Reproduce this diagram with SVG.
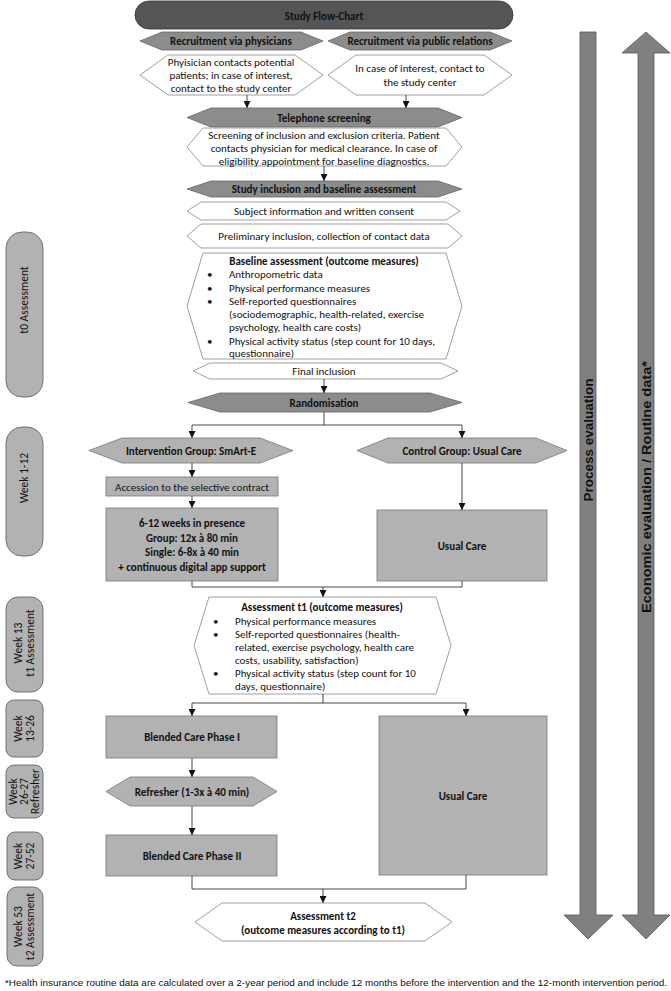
<svg xmlns="http://www.w3.org/2000/svg" width="671" height="991" viewBox="0 0 671 991">
<defs>
<marker id="ah" viewBox="0 0 8 8" refX="8" refY="4" markerWidth="7" markerHeight="7" markerUnits="userSpaceOnUse" orient="auto">
<path d="M0,0 L8,4 L0,8 z" fill="#111"/>
</marker>
<style>
.t{font-family:Carlito,'Liberation Sans Narrow','Liberation Sans',sans-serif;font-size:11px;fill:#111}
.b{font-weight:bold}
.c{text-anchor:middle}
.p{font-size:11.5px}
.a{font-family:'Liberation Sans',Arial,sans-serif;font-weight:bold;font-size:13.5px;fill:#111;text-anchor:middle}
.dk{fill:#8c8c8c;stroke:#666;stroke-width:0.8}
.wh{fill:#fff;stroke:#888;stroke-width:0.8}
.lg{fill:#b2b2b2;stroke:#777;stroke-width:0.8}
.pill{fill:#b2b2b2;stroke:#666;stroke-width:0.9}
.ar{fill:#808080;stroke:#555;stroke-width:0.8}
.ln{fill:none;stroke:#333;stroke-width:0.9}
</style>
</defs>
<rect width="671" height="991" fill="#fff"/>

<g id="title">
<rect x="135" y="1" width="378" height="28" rx="14" fill="#555" stroke="#333" stroke-width="0.8"/>
<text class="t b c" x="324" y="19.5" font-size="13">Study Flow-Chart</text>
</g>

<g id="recruit-phys">
<polygon class="dk" points="140,41 162,32 301,32 323,41 301,50 162,50"/>
<text class="t b c" x="231" y="45">Recruitment via physicians</text>
</g>
<g id="recruit-pr">
<polygon class="dk" points="328,41 350,32 490,32 512,41 490,50 350,50"/>
<text class="t b c" x="420" y="45">Recruitment via public relations</text>
</g>
<g id="phys-box">
<polygon class="wh" points="140,75 168,55 295,55 323,75 295,95 168,95"/>
<text class="t c" x="231" y="66">Phyisician contacts potential</text>
<text class="t c" x="231" y="79">patients; in case of interest,</text>
<text class="t c" x="231" y="92">contact to the study center</text>
</g>
<g id="pr-box">
<polygon class="wh" points="328,75 356,55 484,55 512,75 484,95 356,95"/>
<text class="t c" x="420" y="72">In case of interest, contact to</text>
<text class="t c" x="420" y="86">the study center</text>
</g>
<g id="telephone">
<polygon class="dk" points="187,117.5 211,108 438,108 462,117.5 438,127 211,127"/>
<text class="t b c" x="324" y="121.5">Telephone screening</text>
</g>
<g id="screening-box">
<polygon class="wh" points="187,147 203,128 446,128 462,147 446,166 203,166"/>
<text class="t c" x="324" y="139">Screening of inclusion and exclusion criteria. Patient</text>
<text class="t c" x="324" y="152">contacts physician for medical clearance. In case of</text>
<text class="t c" x="324" y="164.5">eligibility appointment for baseline diagnostics.</text>
</g>
<g id="inclusion">
<polygon class="dk" points="187,189 211,181 438,181 462,189 438,197 211,197"/>
<text class="t b c" x="324" y="193">Study inclusion and baseline assessment</text>
</g>
<g id="consent">
<polygon class="wh" points="187,211 201,202 446,202 460,211 446,220 201,220"/>
<text class="t c" x="324" y="215">Subject information and written consent</text>
</g>
<g id="preliminary">
<polygon class="wh" points="187,236 201,224 448,224 462,236 448,248 201,248"/>
<text class="t c" x="324" y="240">Preliminary inclusion, collection of contact data</text>
</g>
<g id="baseline">
<polygon class="wh" points="187,306 203,253 446,253 462,306 446,359 203,359"/>
<text class="t b c" x="324" y="265">Baseline assessment (outcome measures)</text>
<g class="t">
<text x="207" y="278">•</text><text x="229" y="278">Anthropometric data</text>
<text x="207" y="292">•</text><text x="229" y="292">Physical performance measures</text>
<text x="207" y="305">•</text><text x="229" y="305">Self-reported questionnaires</text>
<text x="229" y="318">(sociodemographic, health-related, exercise</text>
<text x="229" y="331">psychology, health care costs)</text>
<text x="207" y="345">•</text><text x="229" y="345">Physical activity status (step count for 10 days,</text>
<text x="229" y="357">questionnaire)</text>
</g>
</g>
<g id="final">
<polygon class="wh" points="193,371 210,363 441,363 458,371 441,379 210,379"/>
<text class="t c" x="324" y="375">Final inclusion</text>
</g>
<g id="randomisation">
<polygon class="dk" points="188,402.5 220,393 430,393 462,402.5 430,412 220,412"/>
<text class="t b c" x="324" y="407">Randomisation</text>
</g>
<g id="intervention">
<polygon class="lg" points="89,450.5 122,438 260,438 293,450.5 260,463 122,463"/>
<text class="t b c" x="191" y="455">Intervention Group: SmArt-E</text>
</g>
<g id="control">
<polygon class="lg" points="357,450.5 388,438 536,438 567,450.5 536,463 388,463"/>
<text class="t b c" x="462" y="455">Control Group: Usual Care</text>
</g>
<g id="accession">
<rect class="lg" x="106" y="477" width="172" height="19"/>
<text class="t c" x="192" y="490.5" font-size="10.5">Accession to the selective contract</text>
</g>
<g id="presence">
<rect class="lg" x="106" y="508" width="172" height="73"/>
<text class="t b c" x="192" y="527">6-12 weeks in presence</text>
<text class="t b c" x="192" y="542">Group: 12x à 80 min</text>
<text class="t b c" x="192" y="556">Single: 6-8x à 40 min</text>
<text class="t b c" x="192" y="571">+ continuous digital app support</text>
</g>
<g id="usual1">
<rect class="lg" x="377" y="510" width="170" height="71"/>
<text class="t b c" x="462" y="550">Usual Care</text>
</g>
<g id="t1">
<polygon class="wh" points="194,645.5 209,597 436,597 451,645.5 436,694 209,694"/>
<text class="t b c" x="322" y="611">Assessment t1 (outcome measures)</text>
<g class="t">
<text x="213" y="625">•</text><text x="235" y="625">Physical performance measures</text>
<text x="213" y="638">•</text><text x="235" y="638">Self-reported questionnaires (health-</text>
<text x="235" y="651">related, exercise psychology, health care</text>
<text x="235" y="664">costs, usability, satisfaction)</text>
<text x="213" y="677">•</text><text x="235" y="677">Physical activity status (step count for 10</text>
<text x="235" y="690">days, questionnaire)</text>
</g>
</g>
<g id="bcp1">
<rect class="lg" x="106" y="716" width="171" height="42"/>
<text class="t b c" x="192" y="741">Blended Care Phase I</text>
</g>
<g id="usual2">
<rect class="lg" x="379" y="716" width="168" height="159"/>
<text class="t b c" x="463" y="800">Usual Care</text>
</g>
<g id="refresher">
<polygon class="lg" points="106,791.5 130,777 253,777 277,791.5 253,806 130,806"/>
<text class="t b c" x="192" y="796">Refresher (1-3x à 40 min)</text>
</g>
<g id="bcp2">
<rect class="lg" x="106" y="835" width="171" height="41"/>
<text class="t b c" x="192" y="860">Blended Care Phase II</text>
</g>
<g id="t2">
<polygon class="wh" points="195,922 222,903 425,903 452,922 425,941 222,941"/>
<text class="t b c" x="323" y="920">Assessment t2</text>
<text class="t b c" x="323" y="934">(outcome measures according to t1)</text>
</g>

<g id="phases">
<g id="p-t0"><rect class="pill" x="6" y="232" width="37" height="165" rx="16"/>
<text class="t c p" transform="translate(28,300) rotate(-90)">t0 Assessment</text></g>
<g id="p-w1"><rect class="pill" x="6" y="427" width="37" height="129" rx="16"/>
<text class="t c p" transform="translate(28,478) rotate(-90)">Week 1-12</text></g>
<g id="p-w13"><rect class="pill" x="6" y="597" width="37" height="95" rx="12"/>
<text class="t c p" transform="translate(22,643) rotate(-90)">Week 13</text>
<text class="t c p" transform="translate(34,643) rotate(-90)">t1 Assessment</text></g>
<g id="p-w13-26"><rect class="pill" x="6" y="700" width="37" height="57" rx="8"/>
<text class="t c p" transform="translate(22,728.5) rotate(-90)">Week</text>
<text class="t c p" transform="translate(34,728.5) rotate(-90)">13-26</text></g>
<g id="p-w26"><rect class="pill" x="6" y="765" width="37" height="53" rx="8"/>
<text class="t c p" transform="translate(17,791.5) rotate(-90)">Week</text>
<text class="t c p" transform="translate(28,791.5) rotate(-90)">26-27</text>
<text class="t c p" transform="translate(39,791.5) rotate(-90)">Refresher</text></g>
<g id="p-w27"><rect class="pill" x="7" y="832" width="36" height="48" rx="8"/>
<text class="t c p" transform="translate(22,856) rotate(-90)">Week</text>
<text class="t c p" transform="translate(34,856) rotate(-90)">27-52</text></g>
<g id="p-w53"><rect class="pill" x="7" y="887" width="36" height="79" rx="10"/>
<text class="t c p" transform="translate(22,926.5) rotate(-90)">Week 53</text>
<text class="t c p" transform="translate(34,926.5) rotate(-90)">t2 Assessment</text></g>
</g>

<g id="process-evaluation">
<polygon class="ar" points="580,32 596,32 596,915 613,915 588,939 564,915 580,915"/>
<text class="a" transform="translate(593,440) rotate(-90)">Process evaluation</text>
</g>
<g id="economic-evaluation">
<polygon class="ar" points="646,32 670,53 654,53 654,915 670,915 646,939 622,915 638,915 638,53 622,53"/>
<text class="a" transform="translate(651,487) rotate(-90)" textLength="252" lengthAdjust="spacingAndGlyphs">Economic evaluation / Routine data*</text>
</g>

<g id="connectors" class="ln">
<path d="M247,95 V108" marker-end="url(#ah)"/>
<path d="M406,95 V108" marker-end="url(#ah)"/>
<path d="M324,166 V181" marker-end="url(#ah)"/>
<path d="M324,379 V393" marker-end="url(#ah)"/>
<path d="M324,412 V425 M192,425 H462"/>
<path d="M192,425 V438" marker-end="url(#ah)"/>
<path d="M462,425 V438" marker-end="url(#ah)"/>
<path d="M192,463 V477" marker-end="url(#ah)"/>
<path d="M192,496 V508" marker-end="url(#ah)"/>
<path d="M462,463 V510" marker-end="url(#ah)"/>
<path d="M192,581 V587 H462 V581"/>
<path d="M323,587 V597" marker-end="url(#ah)"/>
<path d="M323,694 V703 M192,703 H466"/>
<path d="M192,703 V716" marker-end="url(#ah)"/>
<path d="M466,703 V716" marker-end="url(#ah)"/>
<path d="M192,758 V777" marker-end="url(#ah)"/>
<path d="M192,806 V835" marker-end="url(#ah)"/>
<path d="M192,876 V889 H466 V875"/>
<path d="M323,889 V903" marker-end="url(#ah)"/>
</g>

<text x="5" y="986" font-family="'Liberation Sans',Arial,sans-serif" font-size="9" fill="#111" textLength="662" lengthAdjust="spacingAndGlyphs">*Health insurance routine data are calculated over a 2-year period and include 12 months before the intervention and the 12-month intervention period.</text>
</svg>
